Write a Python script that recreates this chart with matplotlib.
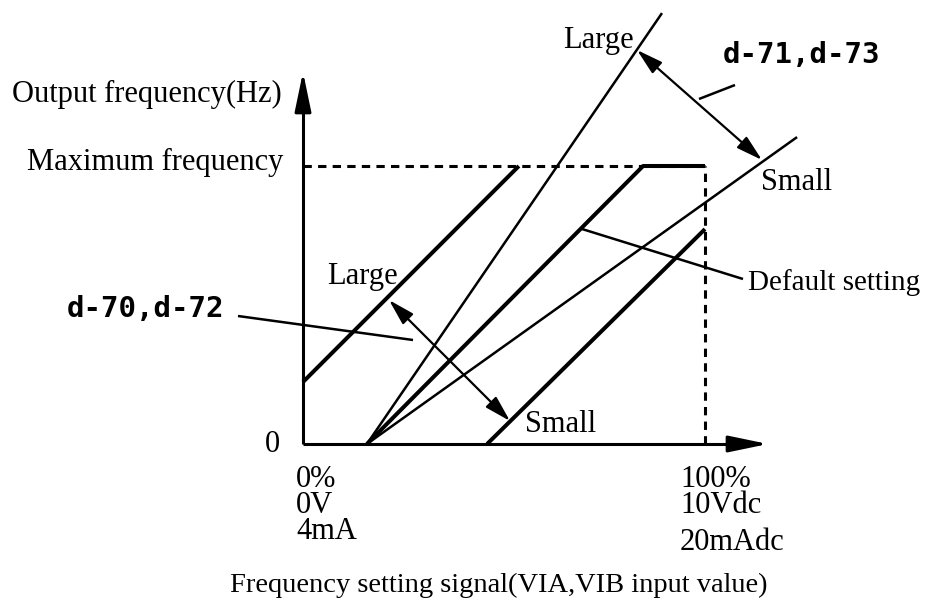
import matplotlib
matplotlib.use("Agg")
import matplotlib.pyplot as plt
from matplotlib.patches import FancyArrowPatch

plt.rcParams['lines.scale_dashes'] = False
plt.rcParams['lines.solid_capstyle'] = 'butt'

# ---------------- data (x: % of input signal, y: % of max frequency) ----------------
bias_x = [0, 53.7]
bias_y = [22.3, 100]
default_x = [15.9, 84.6, 100]
default_y = [0, 100, 100]
large_gain_x = [15.9, 89.3]
large_gain_y = [0, 155]
small_gain_x = [15.9, 122.9]
small_gain_y = [0, 110.4]
offset_x = [45.8, 100]
offset_y = [0, 77.3]
max_freq = 100
full_signal = 100

left_labels = ["0%", "0V", "4mA"]
right_labels = ["100%", "10Vdc", "20mAdc"]

# ---------------- layout helpers (image pixels -> data units) ----------------
X0, Y0, SX, SY = 303, 444, 4.02, 2.78
W, H = 930, 604


def P(x, y):
    return ((x - X0) / SX, (Y0 - y) / SY)


fig = plt.figure(figsize=(W / 100, H / 100), dpi=100)
ax = fig.add_axes([0, 0, 1, 1])
ax.set_xlim(P(0, 0)[0], P(W, 0)[0])
ax.set_ylim(P(0, H)[1], P(0, 0)[1])
ax.axis('off')

SERIF = ['Liberation Serif', 'DejaVu Serif']
FS = 22
K = 'black'

# axes with arrow heads
ax.plot([0, 0], [0, P(0, 100)[1]], color=K, lw=2.2)
ax.plot([0, P(740, 0)[0]], [0, 0], color=K, lw=2.2)
yax = FancyArrowPatch(P(303, 110), P(303, 72), arrowstyle='-|>,head_length=2.4,head_width=0.5',
                      mutation_scale=10, color=K, lw=2.2, shrinkA=0, shrinkB=0)
xax = FancyArrowPatch(P(730, 444), P(768, 444), arrowstyle='-|>,head_length=2.4,head_width=0.5',
                      mutation_scale=10, color=K, lw=2.2, shrinkA=0, shrinkB=0)
ax.add_patch(yax)
ax.add_patch(xax)

# dashed max-frequency guides
ax.plot([0, full_signal], [max_freq, max_freq], color=K, lw=2.2, ls=(0, (6, 4.5)))
ax.plot([full_signal, full_signal], [0, max_freq], color=K, lw=2.2, ls=(0, (6, 4.5)))

# characteristic lines
ax.plot(bias_x, bias_y, color=K, lw=2.9, clip_on=False)
ax.plot(default_x, default_y, color=K, lw=2.9, clip_on=False)
ax.plot(offset_x, offset_y, color=K, lw=2.9, clip_on=False)
ax.plot(large_gain_x, large_gain_y, color=K, lw=1.8, clip_on=False)
ax.plot(small_gain_x, small_gain_y, color=K, lw=1.8, clip_on=False)

# double arrows
for a, b in [((637, 50), (762, 160)), ((389, 300), (510, 421))]:
    ar = FancyArrowPatch(P(*a), P(*b), arrowstyle='<|-|>,head_length=1.6,head_width=0.45',
                         mutation_scale=10, color=K, lw=1.6, shrinkA=0, shrinkB=0)
    ax.add_patch(ar)

# leader lines
for a, b in [((699, 99), (735, 85)), ((238, 316), (413, 340)), ((582, 229), (743, 279))]:
    pa, pb = P(*a), P(*b)
    ax.plot([pa[0], pb[0]], [pa[1], pb[1]], color=K, lw=1.8)


def T(x, y, s, ha='left', va='baseline', **kw):
    px, py = P(x, y)
    kw.setdefault('family', SERIF)
    kw.setdefault('fontsize', FS)
    ax.text(px, py, s, ha=ha, va=va, color=K, **kw)


T(12, 102, "Output frequency(Hz)")
T(283, 170, "Maximum frequency", ha='right')
T(272, 452, "0", ha='center')
T(563, 48, "Large")
T(761, 190, "Small")
T(327, 284, "Large")
T(525, 432, "Small")
T(748, 290, "Default setting", fontsize=21)

# stacked axis-end labels (one text block per column)
T(296, 465, "\n".join(left_labels), va='top', linespacing=0.86)
T(680, 465, "\n".join(right_labels[:2]), va='top', linespacing=0.86)
T(680, 550, right_labels[2])
T(499, 592, "Frequency setting signal(VIA,VIB input value)", ha='center', fontsize=20.5)

SEG = dict(family=['DejaVu Sans Mono'], fontweight='bold', fontsize=21)
T(801, 63, "d-71,d-73", ha='center', **SEG)
T(146, 317, "d-70,d-72", ha='center', **SEG)

fig.savefig('out.png', dpi=100)
